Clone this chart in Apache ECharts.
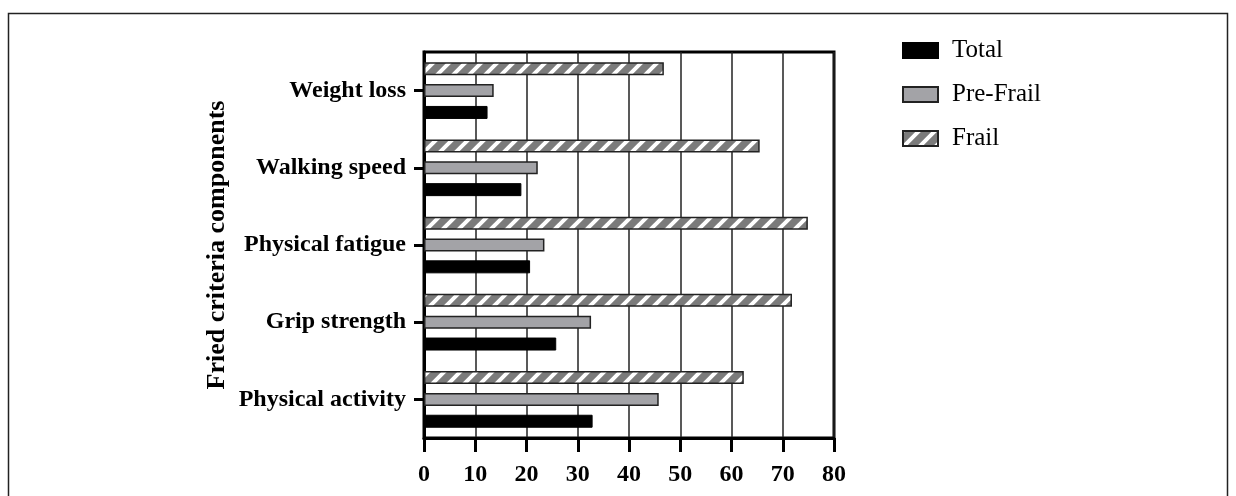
<!DOCTYPE html>
<html>
<head>
<meta charset="utf-8">
<script src="https://cdn.jsdelivr.net/npm/echarts@6/dist/echarts.min.js"></script>
<style>
  html, body { margin: 0; padding: 0; background: #fff; }
  #frail_chart { width: 1236px; height: 496px; }
</style>
</head>
<body>
<div id="frail_chart"></div>
<script>
// Fried criteria components, % per group
var categories = ['Physical activity', 'Grip strength', 'Physical fatigue', 'Walking speed', 'Weight loss']
var totalData = [32.9, 25.8, 20.7, 19.0, 12.4]
var preFrailData = [45.8, 32.6, 23.5, 22.2, 13.6]
var frailData = [62.4, 71.8, 74.9, 65.5, 46.8]
var seriesNames = ['Total', 'Pre-Frail', 'Frail']

var serif = "'Liberation Serif', 'Times New Roman', serif"

// diagonal hatch for the Frail bars
function makeHatch() {
  var c = document.createElement('canvas')
  c.width = 16
  c.height = 16
  var ctx = c.getContext('2d')
  ctx.fillStyle = '#7b7b7b'
  ctx.fillRect(0, 0, 16, 16)
  ctx.strokeStyle = '#ffffff'
  ctx.lineWidth = 4
  ctx.beginPath()
  ctx.moveTo(-4, 20); ctx.lineTo(20, -4)
  ctx.moveTo(-4, 4); ctx.lineTo(4, -4)
  ctx.moveTo(12, 20); ctx.lineTo(20, 12)
  ctx.stroke()
  return c
}

var frail_chart = echarts.init(document.getElementById('frail_chart'))
var frail_chart_option = {
  animation: false,
  graphic: [
    {
      type: 'rect',
      shape: { x: 8.5, y: 13.5, width: 1219, height: 520 },
      style: { fill: 'none', stroke: '#222', lineWidth: 1.5 },
      silent: true,
    },
  ],
  legend: {
    orient: 'vertical',
    left: 897,
    top: 33,
    itemWidth: 35,
    itemHeight: 15,
    itemGap: 19,
    icon: 'rect',
    data: seriesNames,
    textStyle: {
      fontFamily: serif,
      fontSize: 25,
      color: '#000',
      padding: [0, 0, 0, 9],
    },
  },
  grid: {
    left: 424,
    top: 52,
    width: 410,
    height: 386,
    show: true,
    borderColor: '#000',
    borderWidth: 3,
    containLabel: false,
  },
  xAxis: {
    type: 'value',
    min: 0,
    max: 80,
    interval: 10,
    axisLine: { show: true, lineStyle: { color: '#000', width: 3 } },
    axisTick: { show: true, inside: false, length: 14, lineStyle: { color: '#000', width: 3 } },
    splitLine: { show: true, lineStyle: { color: '#222', width: 1.5 } },
    axisLabel: {
      margin: 25,
      fontFamily: serif,
      fontWeight: 'bold',
      fontSize: 24,
      color: '#000',
    },
  },
  yAxis: {
    type: 'category',
    data: categories,
    name: 'Fried criteria components',
    nameLocation: 'middle',
    nameGap: 194,
    nameTextStyle: {
      fontFamily: serif,
      fontWeight: 'bold',
      fontSize: 26,
      color: '#000',
    },
    axisLine: { show: true, lineStyle: { color: '#000', width: 3 } },
    axisTick: { show: true, alignWithLabel: true, length: 10, lineStyle: { color: '#000', width: 3 } },
    splitLine: { show: false },
    axisLabel: {
      margin: 18,
      fontFamily: serif,
      fontWeight: 'bold',
      fontSize: 24,
      color: '#000',
    },
  },
  // series listed top-to-bottom within each group
  series: [
    {
      name: seriesNames[2],
      type: 'bar',
      data: frailData,
      barWidth: 13,
      barGap: '68%',
      itemStyle: {
        color: { image: makeHatch(), repeat: 'repeat' },
        borderColor: '#222',
        borderWidth: 1.5,
      },
    },
    {
      name: seriesNames[1],
      type: 'bar',
      data: preFrailData,
      barWidth: 13,
      barGap: '68%',
      itemStyle: { color: '#a3a3a7', borderColor: '#222', borderWidth: 1.5 },
    },
    {
      name: seriesNames[0],
      type: 'bar',
      data: totalData,
      barWidth: 13,
      barGap: '68%',
      itemStyle: { color: '#000', borderColor: '#000', borderWidth: 1 },
    },
  ],
}
frail_chart.setOption(frail_chart_option)
</script>
</body>
</html>
